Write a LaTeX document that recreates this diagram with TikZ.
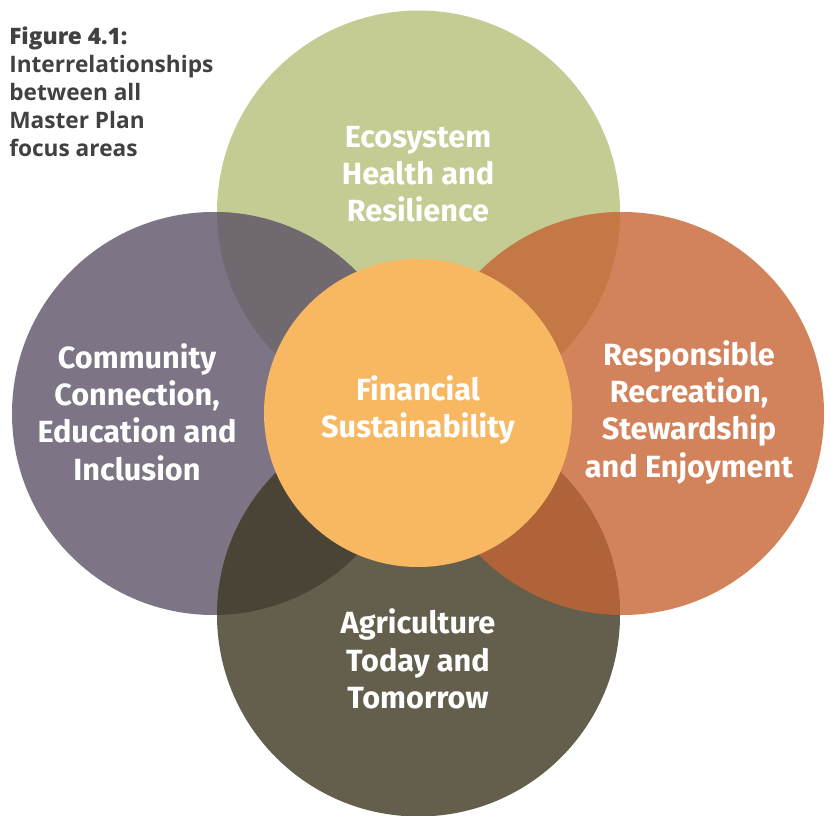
\documentclass[tikz,border=0pt]{standalone}
\usepackage{fontspec}
\setmainfont{Fira Sans}
\newfontfamily\captionfont{Open Sans}
\newfontfamily\captionheavy{Open Sans}[UprightFont=* Bold, UprightFeatures={FakeBold=2}]
\usepackage{tikz}
\usetikzlibrary{positioning}

\definecolor{ecogreen}{HTML}{C4CB93}
\definecolor{commgray}{HTML}{7D7585}
\definecolor{recorange}{HTML}{D3835B}
\definecolor{agriolive}{HTML}{645F4D}
\definecolor{fincore}{HTML}{F8B862}
\definecolor{ecocomm}{HTML}{706A70}
\definecolor{ecorec}{HTML}{C47845}
\definecolor{commagri}{HTML}{4A4437}
\definecolor{recagri}{HTML}{B06339}
\definecolor{captiongray}{HTML}{414141}

\tikzset{
    area/.style={align=center, text=white, font=\bfseries\fontsize{23}{28}\selectfont},
    caption/.style={align=left, anchor=north west, inner sep=0pt, text=captiongray, font=\captionfont\bfseries\fontsize{17}{21}\selectfont}
}

\begin{document}
\begin{tikzpicture}[x=0.75pt, y=-0.75pt]
    \useasboundingbox (0,0) rectangle (831,816);
    \begin{scope}
    \clip (0,0) rectangle (831,816);
    \fill[ecogreen] (418.5, 212) circle (201.5);
    \fill[commgray] (213.5, 413.5) circle (201.5);
    \fill[recorange] (622.5, 413.5) circle (201.5);
    \fill[agriolive] (418.5, 615) circle (201.5);

    % overlaps
    \begin{scope}
        \clip (418.5, 212) circle (201.5);
        \fill[ecocomm] (213.5, 413.5) circle (201.5);
        \fill[ecorec] (622.5, 413.5) circle (201.5);
    \end{scope}
    \begin{scope}
        \clip (418.5, 615) circle (201.5);
        \fill[commagri] (213.5, 413.5) circle (201.5);
        \fill[recagri] (622.5, 413.5) circle (201.5);
    \end{scope}

    \fill[fincore] (418, 413) circle (154);
    \end{scope}

    \node[area] (eco) at (418, 174) {Ecosystem\\Health and\\Resilience};
    \node[area] (comm) at (137, 412) {Community\\Connection,\\Education and\\Inclusion};
    \node[area] (rec) at (689, 412) {Responsible\\Recreation,\\Stewardship\\and Enjoyment};
    \node[area] (fin) at (418, 410) {Financial\\Sustainability};
    \node[area] (agri) at (418, 659) {Agriculture\\Today and\\Tomorrow};

    \node[caption] (fig) at (9, 27) {{\captionheavy Figure 4.1:}\\Interrelationships\\between all\\Master Plan\\focus areas};
\end{tikzpicture}
\end{document}
